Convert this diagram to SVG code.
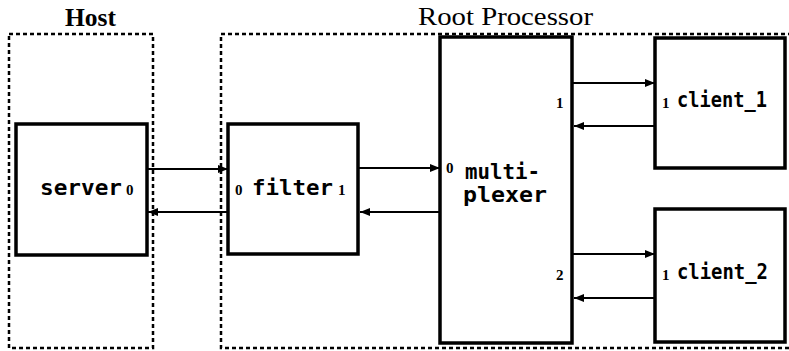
<svg xmlns="http://www.w3.org/2000/svg" width="789" height="351" viewBox="0 0 789 351">
<style>
.grp{fill:none;stroke:#000;stroke-width:2.5;stroke-dasharray:4 3}
.box{fill:#fff;stroke:#000;stroke-width:3.5}
.title{font-family:"Liberation Serif",serif;fill:#000}
.name{font-family:"DejaVu Sans Mono","Liberation Mono",monospace;font-weight:bold;font-size:21px;fill:#000}
.port{font-family:"Liberation Serif",serif;font-weight:bold;font-size:15px;fill:#000}
.conn line{stroke:#000;stroke-width:2;marker-end:url(#ah)}
</style>
<defs>
<marker id="ah" viewBox="0 0 10 8" refX="10" refY="4" markerWidth="10" markerHeight="8" markerUnits="userSpaceOnUse" orient="auto">
<path d="M0,0 L10,4 L0,8 z" fill="#000"/>
</marker>
</defs>
<rect fill="#fff" width="789" height="351"/>
<g id="host">
<rect class="grp" x="9" y="34" width="144" height="314"/>
<text class="title" x="65" y="26" font-size="25" font-weight="bold" textLength="51" lengthAdjust="spacingAndGlyphs">Host</text>
</g>
<g id="root">
<path class="grp" d="M792,34 H221 V348 H792"/>
<text class="title" x="418" y="25" font-size="26" textLength="175" lengthAdjust="spacingAndGlyphs">Root Processor</text>
</g>
<g id="server">
<rect class="box" x="16" y="124" width="131" height="131"/>
<text class="name" x="40" y="195" textLength="82" lengthAdjust="spacingAndGlyphs">server</text>
<text class="port" x="126" y="195">0</text>
</g>
<g id="filter">
<rect class="box" x="228" y="124" width="130" height="130"/>
<text class="port" x="235" y="195">0</text>
<text class="name" x="252" y="195" textLength="81" lengthAdjust="spacingAndGlyphs">filter</text>
<text class="port" x="338" y="195">1</text>
</g>
<g id="multiplexer">
<rect class="box" x="440" y="37" width="132" height="306"/>
<text class="name" x="465" y="179" font-size="20" textLength="75" lengthAdjust="spacingAndGlyphs">multi-</text>
<text class="name" x="463" y="202" font-size="20" textLength="84" lengthAdjust="spacingAndGlyphs">plexer</text>
<text class="port" x="446" y="173">0</text>
<text class="port" x="556" y="108">1</text>
<text class="port" x="556" y="280">2</text>
</g>
<g id="client_1">
<rect class="box" x="655" y="38" width="130" height="130"/>
<text class="port" x="662" y="108">1</text>
<text class="name" x="677" y="107" textLength="90" lengthAdjust="spacingAndGlyphs">client_1</text>
</g>
<g id="client_2">
<rect class="box" x="655" y="209" width="130" height="133"/>
<text class="port" x="662" y="280">1</text>
<text class="name" x="677" y="279" textLength="91" lengthAdjust="spacingAndGlyphs">client_2</text>
</g>
<g id="connectors" class="conn">
<line x1="147" y1="169" x2="228" y2="169"/>
<line x1="228" y1="212" x2="148" y2="212"/>
<line x1="358" y1="168" x2="440" y2="168"/>
<line x1="440" y1="212" x2="360" y2="212"/>
<line x1="572" y1="83" x2="655" y2="83"/>
<line x1="655" y1="126" x2="574" y2="126"/>
<line x1="572" y1="254" x2="655" y2="254"/>
<line x1="655" y1="298" x2="574" y2="298"/>
</g>
</svg>
